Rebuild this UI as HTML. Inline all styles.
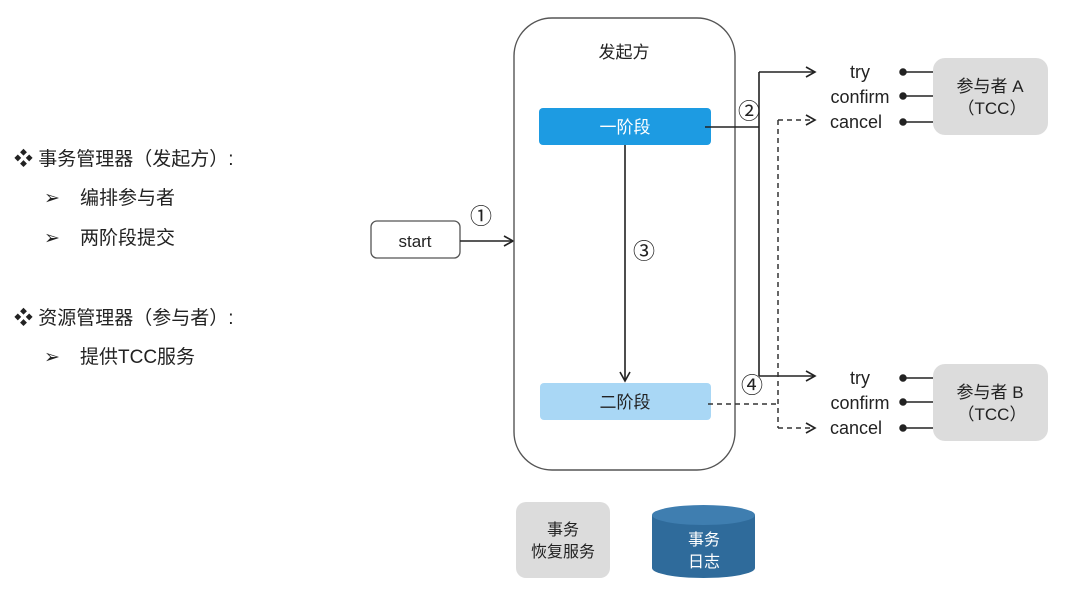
<!DOCTYPE html>
<html><head><meta charset="utf-8"><style>
html,body{margin:0;padding:0;background:#fff;}
svg{display:block;}
text{font-family:"Liberation Sans","Noto Sans CJK SC",sans-serif;fill:#222;}
</style></head><body>
<svg width="1079" height="589" viewBox="0 0 1079 589" xmlns="http://www.w3.org/2000/svg">
<defs>
<marker id="a" markerWidth="12" markerHeight="12" refX="10" refY="6" orient="auto" markerUnits="userSpaceOnUse">
<path d="M1,1 L10,6 L1,11" fill="none" stroke="#222" stroke-width="1.6"/></marker>
</defs>
<g font-size="19">
<text x="14" y="165">❖ 事务管理器（发起方）:</text>
<text x="44" y="204">➢</text><text x="80" y="204">编排参与者</text>
<text x="44" y="244">➢</text><text x="80" y="244">两阶段提交</text>
<text x="14" y="324">❖ 资源管理器（参与者）:</text>
<text x="44" y="363">➢</text><text x="80" y="363">提供TCC服务</text>
</g>
<rect x="371" y="221" width="89" height="37" rx="6" fill="#fff" stroke="#555" stroke-width="1.3"/>
<text x="415" y="247" font-size="17" text-anchor="middle">start</text>
<line x1="460" y1="241" x2="513" y2="241" stroke="#222" stroke-width="1.6" marker-end="url(#a)"/>
<text x="481" y="224" font-size="22" text-anchor="middle">①</text>
<rect x="514" y="18" width="221" height="452" rx="38" fill="#fff" stroke="#555" stroke-width="1.4"/>
<text x="624" y="58" font-size="17" text-anchor="middle">发起方</text>
<rect x="539" y="108" width="172" height="37" rx="4" fill="#1d9be2"/>
<text x="625" y="133" font-size="17" text-anchor="middle" style="fill:#fff">一阶段</text>
<rect x="540" y="383" width="171" height="37" rx="4" fill="#a9d7f5"/>
<text x="625" y="408" font-size="17" text-anchor="middle">二阶段</text>
<line x1="625" y1="145" x2="625" y2="381" stroke="#222" stroke-width="1.6" marker-end="url(#a)"/>
<text x="644" y="259" font-size="22" text-anchor="middle">③</text>
<path d="M705,127 H759 M759,72 V376" stroke="#222" stroke-width="1.6" fill="none"/>
<line x1="759" y1="72" x2="815" y2="72" stroke="#222" stroke-width="1.6" marker-end="url(#a)"/>
<line x1="759" y1="376" x2="815" y2="376" stroke="#222" stroke-width="1.6" marker-end="url(#a)"/>
<text x="749" y="119" font-size="22" text-anchor="middle">②</text>
<text x="752" y="393" font-size="22" text-anchor="middle">④</text>
<path d="M708,404 H778 M778,120 V428" stroke="#333" stroke-width="1.5" stroke-dasharray="5,4" fill="none"/>
<line x1="778" y1="120" x2="815" y2="120" stroke="#333" stroke-width="1.5" stroke-dasharray="5,4" marker-end="url(#a)"/>
<line x1="778" y1="428" x2="815" y2="428" stroke="#333" stroke-width="1.5" stroke-dasharray="5,4" marker-end="url(#a)"/>
<g font-size="18">
<text x="860" y="78" text-anchor="middle">try</text>
<text x="860" y="103" text-anchor="middle">confirm</text>
<text x="856" y="128" text-anchor="middle">cancel</text>
<text x="860" y="384" text-anchor="middle">try</text>
<text x="860" y="409" text-anchor="middle">confirm</text>
<text x="856" y="434" text-anchor="middle">cancel</text>
</g>
<g stroke="#222" stroke-width="1.5" fill="#222">
<line x1="903" y1="72" x2="933" y2="72"/><circle cx="903" cy="72" r="3"/>
<line x1="903" y1="96" x2="933" y2="96"/><circle cx="903" cy="96" r="3"/>
<line x1="903" y1="122" x2="933" y2="122"/><circle cx="903" cy="122" r="3"/>
<line x1="903" y1="378" x2="933" y2="378"/><circle cx="903" cy="378" r="3"/>
<line x1="903" y1="402" x2="933" y2="402"/><circle cx="903" cy="402" r="3"/>
<line x1="903" y1="428" x2="933" y2="428"/><circle cx="903" cy="428" r="3"/>
</g>
<rect x="933" y="58" width="115" height="77" rx="12" fill="#dcdcdc"/>
<text x="990" y="92" font-size="17" text-anchor="middle">参与者 A</text>
<text x="992" y="114" font-size="17" text-anchor="middle">（TCC）</text>
<rect x="933" y="364" width="115" height="77" rx="12" fill="#dcdcdc"/>
<text x="990" y="398" font-size="17" text-anchor="middle">参与者 B</text>
<text x="992" y="420" font-size="17" text-anchor="middle">（TCC）</text>
<rect x="516" y="502" width="94" height="76" rx="10" fill="#dcdcdc"/>
<text x="563" y="535" font-size="16" text-anchor="middle">事务</text>
<text x="563" y="557" font-size="16" text-anchor="middle">恢复服务</text>
<path d="M652,515 V568 A51.5,10 0 0 0 755,568 V515 Z" fill="#2f6b9b"/>
<ellipse cx="703.5" cy="515" rx="51.5" ry="10" fill="#3f7eb0"/>
<text x="704" y="545" font-size="16" text-anchor="middle" style="fill:#fff">事务</text>
<text x="704" y="567" font-size="16" text-anchor="middle" style="fill:#fff">日志</text>
</svg>
</body></html>
